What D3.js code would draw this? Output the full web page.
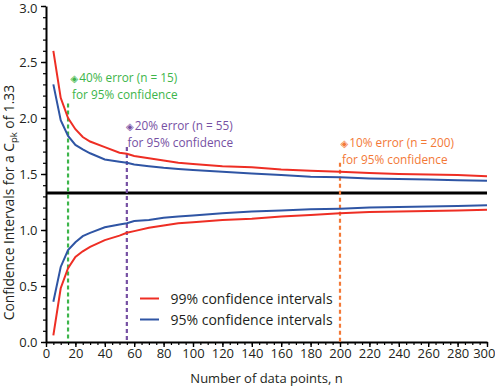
<!DOCTYPE html>
<html><head><meta charset="utf-8">
<script src="https://cdn.jsdelivr.net/npm/d3@7/dist/d3.min.js"></script>
<style>
body{margin:0;background:#fff}
svg{display:block}
text{font-family:"Open Sans",sans-serif;fill:#231f20}
</style>
</head><body>
<svg id="chart" width="495" height="386"></svg>
<script>
// ---- data ----
const nValues = [5,10,15,20,25,30,40,50,55,60,70,80,90,100,120,140,160,180,200,220,240,260,280,300];
const upper99 = [2.60,2.18,2.00,1.90,1.83,1.79,1.74,1.69,1.68,1.66,1.64,1.62,1.60,1.59,1.57,1.56,1.54,1.53,1.52,1.51,1.50,1.495,1.49,1.48];
const lower99 = [0.06,0.48,0.66,0.76,0.81,0.85,0.91,0.95,0.975,0.99,1.02,1.04,1.06,1.07,1.09,1.10,1.12,1.135,1.15,1.16,1.165,1.17,1.175,1.18];
const upper95 = [2.30,1.98,1.84,1.76,1.72,1.685,1.63,1.61,1.60,1.585,1.57,1.555,1.545,1.535,1.52,1.505,1.49,1.475,1.47,1.46,1.455,1.45,1.445,1.44];
const lower95 = [0.36,0.67,0.82,0.89,0.945,0.975,1.025,1.05,1.06,1.08,1.09,1.11,1.12,1.13,1.15,1.165,1.175,1.185,1.19,1.20,1.205,1.21,1.215,1.22];
const cpkValue = 1.33;
const xTickValues = d3.range(0, 301, 20);
const yTickValues = [0, 0.5, 1.0, 1.5, 2.0, 2.5, 3.0];
const markerN = [15, 55, 200];
const markerTop = [2.13, 1.74, 1.60];
const markerLine1 = ["40% error (n = 15)", "20% error (n = 55)", "10% error (n = 200)"];
const markerLine2 = ["for 95% confidence", "for 95% confidence", "for 95% confidence"];
const legendLabels = ["99% confidence intervals", "95% confidence intervals"];

// ---- styles ----
const RED = "#ee2e24", BLUE = "#2f55a4";
const markerColors = ["#3db54a", "#7650a3", "#f37937"];

const svg = d3.select("#chart");
const x = d3.scaleLinear().domain([0, 300]).range([46, 487]);
const y = d3.scaleLinear().domain([0, 3]).range([342, 6]);

// minor ticks
svg.append("g").attr("transform", "translate(0,342)")
  .call(d3.axisBottom(x).tickValues(d3.range(0, 301, 5)).tickSize(3).tickFormat(""))
  .call(g => g.select(".domain").remove())
  .call(g => g.selectAll("line").attr("stroke", "#000").attr("stroke-width", 1.2));
svg.append("g").attr("transform", "translate(46,0)")
  .call(d3.axisLeft(y).tickValues(d3.range(0, 31).map(d => d / 10)).tickSize(3).tickFormat(""))
  .call(g => g.select(".domain").remove())
  .call(g => g.selectAll("line").attr("stroke", "#000").attr("stroke-width", 1.2));

// major axes
const xAxis = svg.append("g").attr("transform", "translate(0,342)")
  .call(d3.axisBottom(x).tickValues(xTickValues).tickSize(5).tickPadding(2).tickSizeOuter(0));
const yAxis = svg.append("g").attr("transform", "translate(46,0)")
  .call(d3.axisLeft(y).tickValues(yTickValues).tickSize(5).tickPadding(3.5).tickSizeOuter(0).tickFormat(d3.format(".1f")));
[xAxis, yAxis].forEach(g => {
  g.select(".domain").attr("stroke", "#000").attr("stroke-width", 2);
  g.selectAll("line").attr("stroke", "#000").attr("stroke-width", 1.4);
  g.selectAll("text").attr("font-size", 13).attr("fill", "#231f20").style("font-family", '"Open Sans",sans-serif');
});
// last x label kept inside the frame as in the reference
xAxis.selectAll(".tick text").filter(d => d === 300).attr("text-anchor", "end").attr("x", 8);
// top y label kept inside the frame
yAxis.selectAll(".tick text").filter(d => d === 3).attr("dy", "0.8em").attr("y", -4);

// Cpk reference line
svg.append("line").attr("x1", x(0)).attr("x2", x(300)).attr("y1", y(cpkValue)).attr("y2", y(cpkValue))
  .attr("stroke", "#000").attr("stroke-width", 3);

// marker dashed lines
markerN.forEach((n, i) => {
  svg.append("line").attr("x1", x(n)).attr("x2", x(n)).attr("y1", y(markerTop[i])).attr("y2", y(0))
    .attr("stroke", markerColors[i]).attr("stroke-width", 2.2).attr("stroke-dasharray", "4,3");
});

// curves
const line = d3.line().x(d => x(d[0])).y(d => y(d[1]));
const series = [[upper99, RED], [lower99, RED], [upper95, BLUE], [lower95, BLUE]];
series.forEach(([vals, col]) => {
  svg.append("path").datum(nValues.map((n, i) => [n, vals[i]]))
    .attr("d", line).attr("fill", "none").attr("stroke", col).attr("stroke-width", 2);
});

// annotations
const annX = [70.5, 126, 340.5];
const annY = [82, 130, 147];
markerN.forEach((n, i) => {
  const t = svg.append("text").attr("x", annX[i]).attr("y", annY[i]).attr("font-size", 11.8)
    .style("fill", markerColors[i]);
  t.append("tspan").attr("font-size", 10).style("font-family", '"DejaVu Sans",sans-serif').text("\u25C8");
  t.append("tspan").attr("dx", 1).text(markerLine1[i]);
  svg.append("text").attr("x", annX[i] + 1.5).attr("y", annY[i] + 16.5).attr("font-size", 11.8)
    .style("fill", markerColors[i]).text(markerLine2[i]);
});

// legend
[RED, BLUE].forEach((c, i) => {
  const ly = 298.5 + i * 21;
  svg.append("line").attr("x1", 140).attr("x2", 159).attr("y1", ly).attr("y2", ly)
    .attr("stroke", c).attr("stroke-width", 2);
  svg.append("text").attr("x", 170.5).attr("y", ly + 5).attr("font-size", 14).text(legendLabels[i]);
});

// axis titles
svg.append("text").attr("x", (x(0) + x(300)) / 2).attr("y", 383).attr("text-anchor", "middle")
  .attr("font-size", 13).text("Number of data points, n");
const yt = svg.append("text").attr("transform", "translate(14,202.5) rotate(-90)")
  .attr("text-anchor", "middle").attr("font-size", 13.8);
yt.append("tspan").text("Confidence Intervals for a C");
yt.append("tspan").attr("font-size", 9.5).attr("dy", 3).text("pk");
yt.append("tspan").attr("dy", -3).text(" of 1.33");
</script>
</body></html>
